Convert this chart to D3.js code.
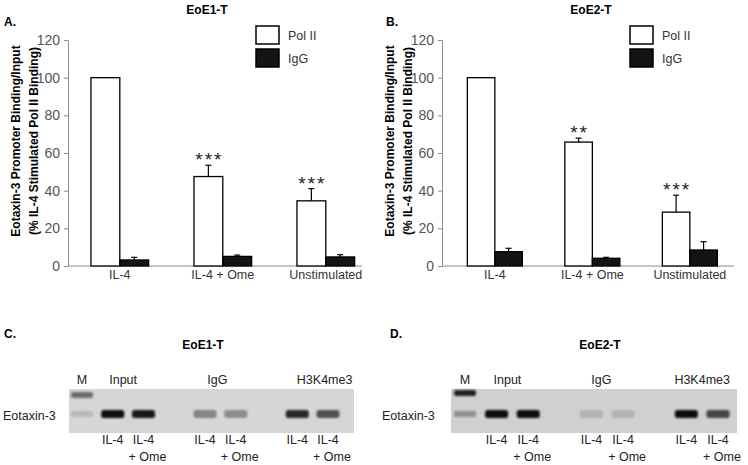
<!DOCTYPE html>
<html>
<head>
<meta charset="utf-8">
<script src="https://cdn.jsdelivr.net/npm/d3@7"></script>
<style>
  body { margin: 0; background: #fff; }
  svg { display: block; font-family: "Liberation Sans", Arial, sans-serif; }
</style>
</head>
<body>
<svg id="fig" width="748" height="465"></svg>
<script>
// bar chart data
var categories = ["IL-4", "IL-4 + Ome", "Unstimulated"];
var seriesNames = ["Pol II", "IgG"];
var yTicks = [0, 20, 40, 60, 80, 100, 120];

var polA = [100, 47.5, 34.6];
var polAErr = [0, 6.0, 6.5];
var iggA = [3.2, 5.1, 4.8];
var iggAErr = [1.4, 0.7, 1.2];
var sigA = ["", "***", "***"];

var polB = [100, 65.8, 28.6];
var polBErr = [0, 2.1, 9.0];
var iggB = [7.6, 4.1, 8.5];
var iggBErr = [1.8, 0.5, 4.4];
var sigB = ["", "**", "***"];

// gel data (band intensity 0..1)
var gelGroups = ["Input", "IgG", "H3K4me3"];
var laneTreat = ["IL-4", "IL-4 + Ome", "IL-4", "IL-4 + Ome", "IL-4", "IL-4 + Ome"];
var bandC = [1.0, 0.95, 0.38, 0.34, 0.88, 0.62];
var bandD = [1.0, 1.0, 0.14, 0.14, 1.0, 0.72];
var markerC = [0.55, 0.14];
var markerD = [0.9, 0.35];

var svg = d3.select("#fig");
var defs = svg.append("defs");
defs.append("filter").attr("id", "blur")
    .attr("x", "-30%").attr("y", "-80%").attr("width", "160%").attr("height", "260%")
  .append("feGaussianBlur").attr("stdDeviation", "1.3 1.1");

var y = d3.scaleLinear().domain([0, 120]).range([266, 40]);

function drawBarPanel(cfg, pol, polErr, igg, iggErr, sig) {
  var g = svg.append("g");

  var x0 = d3.scaleBand()
      .domain(categories)
      .range([cfg.axisX, cfg.axisX + cfg.width])
      .paddingInner(cfg.padIn)
      .paddingOuter(cfg.padOut);
  var x1 = d3.scaleBand()
      .domain(seriesNames)
      .range([0, x0.bandwidth()]);

  // title + panel letter
  g.append("text")
      .attr("x", cfg.titleX).attr("y", 14)
      .attr("text-anchor", "middle")
      .attr("font-size", 12).attr("font-weight", "bold")
      .text(cfg.title);
  g.append("text")
      .attr("x", cfg.letterX).attr("y", 26)
      .attr("font-size", 12).attr("font-weight", "bold")
      .text(cfg.letter);

  // y axis
  var yAxis = g.append("g")
      .attr("transform", "translate(" + cfg.axisX + ",0)")
      .call(d3.axisLeft(y).tickValues(yTicks).tickSize(4).tickPadding(4).tickSizeOuter(0));
  yAxis.select(".domain").attr("stroke", "#8c8c8c");
  yAxis.selectAll(".tick line").attr("stroke", "#8c8c8c");
  yAxis.selectAll(".tick text")
      .attr("font-size", 14)
      .attr("font-family", "Liberation Sans, Arial, sans-serif")
      .attr("fill", "#555");

  // x axis line + labels
  g.append("line")
      .attr("x1", cfg.axisX).attr("x2", cfg.xEnd)
      .attr("y1", y(0)).attr("y2", y(0))
      .attr("stroke", "#8c8c8c");
  g.selectAll(".cat")
    .data(categories)
    .enter().append("text")
      .attr("x", function(d) { return x0(d) + x0.bandwidth() / 2; })
      .attr("y", 279)
      .attr("text-anchor", "middle")
      .attr("font-size", 12.5)
      .attr("fill", "#333")
      .text(function(d) { return d; });

  // y label
  var yl = g.append("g")
      .attr("transform", "translate(" + cfg.labelX + ",141) rotate(-90)");
  yl.append("text")
      .attr("text-anchor", "middle")
      .attr("font-size", 12).attr("font-weight", "bold")
      .text("Eotaxin-3 Promoter Binding/Input");
  yl.append("text")
      .attr("y", 18)
      .attr("text-anchor", "middle")
      .attr("font-size", 12).attr("font-weight", "bold")
      .text("(% IL-4 Stimulated Pol II Binding)");

  var rows = categories.map(function(c, i) {
    return [
      { cat: c, s: "Pol II", v: pol[i], e: polErr[i] },
      { cat: c, s: "IgG", v: igg[i], e: iggErr[i] }
    ];
  });

  var grp = g.selectAll(".grp")
    .data(rows)
    .enter().append("g")
      .attr("transform", function(d) { return "translate(" + x0(d[0].cat) + ",0)"; });

  // error bars (drawn first, bars sit on top)
  grp.selectAll(".err")
    .data(function(d) { return d.filter(function(r) { return r.e > 0; }); })
    .enter().append("g")
    .each(function(d) {
      var cx = x1(d.s) + x1.bandwidth() / 2;
      var sel = d3.select(this);
      sel.append("line")
          .attr("x1", cx).attr("x2", cx)
          .attr("y1", y(d.v)).attr("y2", y(d.v + d.e))
          .attr("stroke", "#000").attr("stroke-width", 1.2);
      sel.append("line")
          .attr("x1", cx - 3).attr("x2", cx + 3)
          .attr("y1", y(d.v + d.e)).attr("y2", y(d.v + d.e))
          .attr("stroke", "#000").attr("stroke-width", 1.2);
    });

  grp.selectAll("rect")
    .data(function(d) { return d; })
    .enter().append("rect")
      .attr("x", function(d) { return x1(d.s); })
      .attr("y", function(d) { return y(d.v); })
      .attr("width", x1.bandwidth())
      .attr("height", function(d) { return y(0) - y(d.v); })
      .attr("fill", function(d) { return d.s === "Pol II" ? "#fff" : "#141414"; })
      .attr("stroke", "#000")
      .attr("stroke-width", 1.3);

  // significance stars
  g.selectAll(".sig")
    .data(categories)
    .enter().append("text")
      .attr("x", function(d) { return x0(d) + x1("Pol II") + x1.bandwidth() / 2 + 1; })
      .attr("y", function(d, i) { return y(pol[i] + polErr[i]) + 1; })
      .attr("text-anchor", "middle")
      .attr("font-size", 19)
      .attr("letter-spacing", 2)
      .attr("fill", "#222")
      .text(function(d, i) { return sig[i]; });

  // legend
  var lg = g.append("g").attr("transform", "translate(" + cfg.legendX + ",26)");
  var li = lg.selectAll("g")
    .data(seriesNames)
    .enter().append("g")
      .attr("transform", function(d, i) { return "translate(0," + i * 23 + ")"; });
  li.append("rect")
      .attr("width", 23).attr("height", 18)
      .attr("fill", function(d) { return d === "Pol II" ? "#fff" : "#141414"; })
      .attr("stroke", "#000").attr("stroke-width", 1.5);
  li.append("text")
      .attr("x", 32).attr("y", 13.5)
      .attr("font-size", 12.5)
      .attr("fill", "#333")
      .text(function(d) { return d; });
}

function drawGelPanel(cfg, bands, marker) {
  var g = svg.append("g");
  var slot = d3.scalePoint().domain(d3.range(9)).range([cfg.firstLane, cfg.lastLane]);
  var laneX = function(j) { return slot(j + 1 + Math.floor(j / 2)); };

  g.append("text")
      .attr("x", cfg.letterX).attr("y", 337.5)
      .attr("font-size", 12).attr("font-weight", "bold")
      .text(cfg.letter);
  g.append("text")
      .attr("x", cfg.titleX).attr("y", 349)
      .attr("text-anchor", "middle")
      .attr("font-size", 12).attr("font-weight", "bold")
      .text(cfg.title);

  // gel background
  g.append("rect")
      .attr("x", cfg.gelX0).attr("y", 389)
      .attr("width", cfg.gelX1 - cfg.gelX0).attr("height", 44)
      .attr("fill", cfg.gelFill);

  // marker lane
  var mk = g.append("g").attr("filter", "url(#blur)");
  mk.selectAll("rect")
    .data(marker)
    .enter().append("rect")
      .attr("x", slot(0) - 11)
      .attr("y", function(d, i) { return (i === 0 ? cfg.markerTop : 414) - 3; })
      .attr("width", 22).attr("height", 6)
      .attr("rx", 2)
      .attr("fill", "#111")
      .attr("opacity", function(d) { return d; });

  // sample bands
  var bd = g.append("g").attr("filter", "url(#blur)");
  bd.selectAll("rect")
    .data(bands)
    .enter().append("rect")
      .attr("x", function(d, j) { return laneX(j) - 11.5; })
      .attr("y", 410)
      .attr("width", 23).attr("height", 8)
      .attr("rx", 2.5)
      .attr("fill", "#0a0a0a")
      .attr("opacity", function(d) { return d; });

  // labels above gel
  g.append("text")
      .attr("x", slot(0)).attr("y", 384)
      .attr("text-anchor", "middle").attr("font-size", 12.5).attr("fill", "#222")
      .text("M");
  g.selectAll(".grpLabel")
    .data(gelGroups)
    .enter().append("text")
      .attr("x", function(d, i) { return (laneX(2 * i) + laneX(2 * i + 1)) / 2 + cfg.groupShift[i]; })
      .attr("y", 384)
      .attr("text-anchor", "middle").attr("font-size", 12.5).attr("fill", "#222")
      .text(function(d) { return d; });

  g.append("text")
      .attr("x", cfg.rowLabelX).attr("y", 419.5)
      .attr("font-size", 12.5).attr("fill", "#222")
      .text("Eotaxin-3");

  // lane labels below gel
  g.selectAll(".lane")
    .data(laneTreat)
    .enter().append("text")
      .attr("x", function(d, j) { return laneX(j); })
      .attr("y", 443.5)
      .attr("text-anchor", "middle").attr("font-size", 12.5).attr("fill", "#222")
      .text("IL-4");
  g.selectAll(".ome")
    .data(laneTreat.filter(function(d) { return d.indexOf("Ome") > -1; }))
    .enter().append("text")
      .attr("x", function(d, k) { return laneX(2 * k + 1) + 4; })
      .attr("y", 461)
      .attr("text-anchor", "middle").attr("font-size", 12.5).attr("fill", "#222")
      .text("+ Ome");
}

drawBarPanel({ axisX: 68, width: 309.6, padIn: 0.44, padOut: 0.223, xEnd: 362,
               title: "EoE1-T", titleX: 207, letter: "A.", letterX: 4,
               labelX: 19.5, legendX: 256 },
             polA, polAErr, iggA, iggAErr, sigA);
drawBarPanel({ axisX: 442, width: 300.7, padIn: 0.436, padOut: 0.26, xEnd: 734,
               title: "EoE2-T", titleX: 591, letter: "B.", letterX: 386,
               labelX: 393.5, legendX: 630 },
             polB, polBErr, iggB, iggBErr, sigB);

drawGelPanel({ firstLane: 82, lastLane: 328, gelX0: 69, gelX1: 354, gelFill: "#d6d6d6",
               markerTop: 395, letter: "C.", letterX: 4, title: "EoE1-T", titleX: 203,
               rowLabelX: 3, groupShift: [-5, -3, 12] },
             bandC, markerC);
drawGelPanel({ firstLane: 465, lastLane: 718, gelX0: 451, gelX1: 737, gelFill: "#d0d0d0",
               markerTop: 393, letter: "D.", letterX: 390, title: "EoE2-T", titleX: 600,
               rowLabelX: 382, groupShift: [-5, -6, 0] },
             bandD, markerD);
</script>
</body>
</html>
